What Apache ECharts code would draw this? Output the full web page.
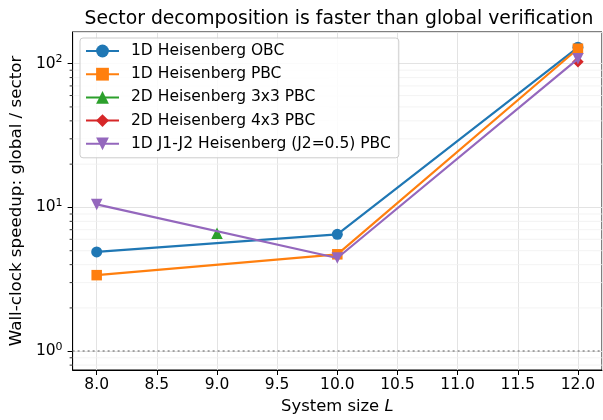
<!DOCTYPE html>
<html><head><meta charset="utf-8">
<script src="https://cdn.jsdelivr.net/npm/echarts@6/dist/echarts.min.js"></script>
<style>html,body{margin:0;padding:0;background:#fff}#c{width:603px;height:420px}</style>
</head><body><div id="c"></div>
<script>
const names = ['1D Heisenberg OBC','1D Heisenberg PBC','2D Heisenberg 3x3 PBC','2D Heisenberg 4x3 PBC','1D J1-J2 Heisenberg (J2=0.5) PBC'];
const obcL = [8, 10, 12], obcV = [4.9, 6.5, 130];
const pbcL = [8, 10, 12], pbcV = [3.38, 4.72, 127];
const sq3L = [9], sq3V = [6.6];
const sq4L = [12], sq4V = [103];
const j12L = [8, 10, 12], j12V = [10.5, 4.45, 108];
const xTicks = [8.0, 8.5, 9.0, 9.5, 10.0, 10.5, 11.0, 11.5, 12.0];
const yMajor = [1, 10, 100];
const yMinor = [0.8, 0.9, 2, 3, 4, 5, 6, 7, 8, 9, 20, 30, 40, 50, 60, 70, 80, 90];
const baseline = 1;

const colors = ['#1f77b4','#ff7f0e','#2ca02c','#d62728','#9467bd'];
const symbols = ['circle','rect','triangle','diamond','path://M0,0 L10,0 L5,9 Z'];
const sizes = [11, 10.5, 11.5, 11.5, 11.5];
const sets = [[obcL,obcV],[pbcL,pbcV],[sq3L,sq3V],[sq4L,sq4V],[j12L,j12V]];
const XMIN = 7.8, XMAX = 12.2;
const FONT = "'DejaVu Sans', sans-serif";

const series = sets.map((s,i)=>({
  name: names[i], type:'line', data: s[0].map((x,k)=>[x, s[1][k]]),
  symbol: symbols[i], symbolSize: sizes[i], showSymbol: true,
  itemStyle:{color: colors[i]}, lineStyle:{color: colors[i], width: 2.2}, z: 10+i,
  emphasis:{disabled:true}
}));
series.push({
  type:'custom', name:'minor', silent:true, clip:false, z:1,
  data: yMinor.map(v=>[v]),
  encode:{y:0},
  renderItem:(params, api)=>{
    const v = api.value(0);
    const a = api.coord([XMIN, v]), b = api.coord([XMAX, v]);
    return {type:'group', children:[
      {type:'line', shape:{x1:a[0], y1:a[1], x2:b[0], y2:b[1]}, style:{stroke:'#f0f0f0', lineWidth:0.8}},
      {type:'line', shape:{x1:a[0]-3, y1:a[1], x2:a[0], y2:a[1]}, style:{stroke:'#000', lineWidth:0.8}}
    ]};
  }
});
series.push({
  type:'line', name:'base', data:[], silent:true,
  markLine:{symbol:['none','none'], silent:true, label:{show:false},
    lineStyle:{color:'#808080', type:[2,3], width:1.6, opacity:0.9},
    data:[{yAxis: baseline}]}
});

const chart = echarts.init(document.getElementById('c'), null, {renderer:'canvas'});
chart.setOption({
  animation:false,
  textStyle:{fontFamily:FONT},
  title:{text:'Sector decomposition is faster than global verification', left:334, textAlign:'center', top:5,
    textStyle:{fontFamily:FONT, fontSize:18.8, fontWeight:'normal', color:'#000'}},
  grid:{left:72, right:1, top:32, bottom:47, show:true, borderColor:'#000', borderWidth:1, backgroundColor:'transparent'},
  legend:{data:names, orient:'vertical', left:80, top:38, itemWidth:33, itemHeight:16, itemGap:7.2,
    padding:[5,8,6,5], backgroundColor:'rgba(255,255,255,0.85)', borderColor:'#cccccc', borderWidth:1, borderRadius:3,
    textStyle:{fontFamily:FONT, fontSize:15.5, lineHeight:16, color:'#000', padding:[0,0,0,7]}},
  xAxis:{type:'value', min:XMIN, max:XMAX, minInterval:0.5, maxInterval:0.5,
    name:'{n|System size }{i|L}', nameLocation:'middle', nameGap:29,
    nameTextStyle:{rich:{n:{fontFamily:FONT,fontSize:16.4,color:'#000'}, i:{fontFamily:FONT,fontSize:16.4,fontStyle:'italic',color:'#000'}}},
    axisLine:{onZero:false, lineStyle:{color:'#000', width:1}},
    axisTick:{show:true, length:5, lineStyle:{color:'#000'}},
    axisLabel:{margin:7, color:'#000', fontFamily:FONT, fontSize:15.5, showMinLabel:false, showMaxLabel:false,
      formatter:v=> xTicks.some(t=>Math.abs(t-v)<1e-6) ? v.toFixed(1) : ''},
    splitLine:{show:true, lineStyle:{color:'#e3e3e3', width:1}}},
  yAxis:{type:'log', logBase:10, min:0.74, max:166,
    name:'Wall-clock speedup: global / sector', nameLocation:'middle', nameGap:46,
    nameTextStyle:{fontFamily:FONT, fontSize:16.7, color:'#000'},
    axisLine:{show:true, onZero:false, lineStyle:{color:'#000', width:1}},
    axisTick:{show:true, length:5, lineStyle:{color:'#000'}},
    axisLabel:{margin:10, color:'#000', showMinLabel:false, showMaxLabel:false,
      formatter:v=>{ const e=Math.round(Math.log10(v)); return yMajor.some(m=>Math.abs(m-v)/m<1e-6) ? '{b|10}{s|'+e+'}' : ''; },
      rich:{b:{fontFamily:FONT,fontSize:15.5,color:'#000'}, s:{fontFamily:FONT,fontSize:11,color:'#000',verticalAlign:'top',padding:[0,0,9,0]}}},
    splitLine:{show:true, lineStyle:{color:'#e3e3e3', width:1}}},
  series: series
});
</script></body></html>
